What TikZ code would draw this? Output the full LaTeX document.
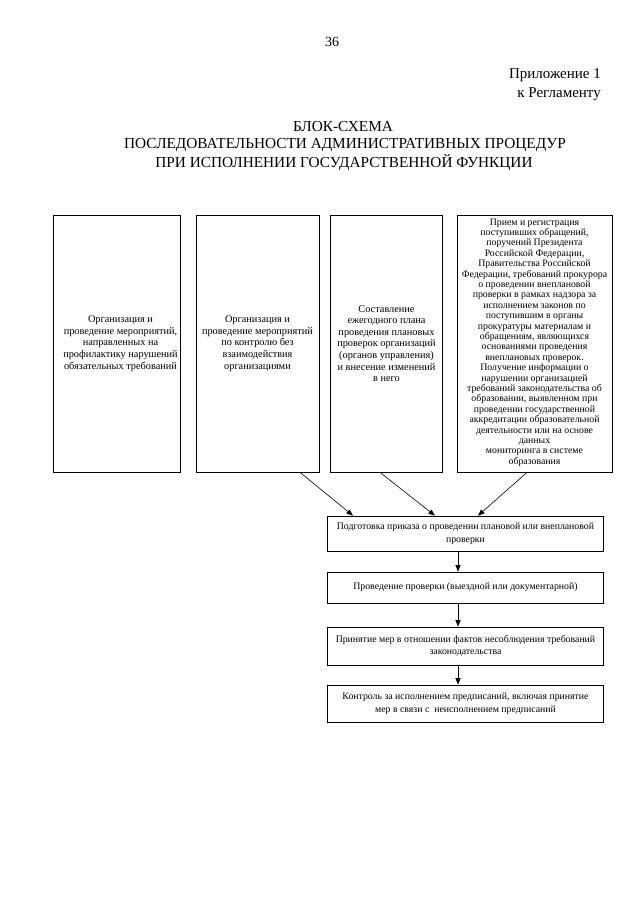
\documentclass[tikz,border=0pt]{standalone}
\usepackage{fontspec}
\setmainfont{Liberation Serif}
\usetikzlibrary{arrows.meta}
\begin{document}
\begin{tikzpicture}[x=1pt,y=-1pt,
  box/.style={draw, line width=0.7pt, align=center, inner sep=1pt},
  topbox/.style={box, minimum height=257pt, font=\fontsize{10.3}{11.6}\selectfont},
  flowbox/.style={box, minimum width=276pt, font=\fontsize{9.8}{12.8}\selectfont},
  arr/.style={line width=0.6pt, -{Triangle[length=6.5pt,width=5pt]}},
  hdr/.style={font=\fontsize{15}{17}\selectfont, inner sep=0pt},
  ttl/.style={font=\fontsize{15.3}{17}\selectfont, inner sep=0pt}]
\useasboundingbox (0,0) rectangle (640,905);
\fill[white] (0,0) rectangle (640,905);
% header
\node[hdr, font=\fontsize{14}{16}\selectfont] (pg) at (332,42) {36};
\node[hdr, anchor=east] (app1) at (601,75) {Приложение 1};
\node[hdr, anchor=east] (app2) at (601,94) {к Регламенту};
\node[ttl] (t1) at (343,127) {БЛОК-СХЕМА};
\node[ttl] (t2) at (345,145) {ПОСЛЕДОВАТЕЛЬНОСТИ АДМИНИСТРАТИВНЫХ ПРОЦЕДУР};
\node[ttl] (t3) at (344,163) {ПРИ ИСПОЛНЕНИИ ГОСУДАРСТВЕННОЙ ФУНКЦИИ};
% top boxes
\node[topbox, minimum width=127pt] (b1) at (116.5,343.5) {};
\node[font=\fontsize{10.3}{11.6}\selectfont, align=center, inner sep=0pt] (b1t) at (b1) [xshift=4pt] {Организация и\\проведение мероприятий,\\направленных на\\профилактику нарушений\\обязательных требований};
\node[topbox, minimum width=123pt] (b2) at (257.5,343.5) {Организация и\\проведение мероприятий\\по контролю без\\взаимодействия\\организациями};
\node[topbox, minimum width=112pt] (b3) at (386.5,343.5) {Составление\\ежегодного плана\\проведения плановых\\проверок организаций\\(органов управления)\\и внесение изменений\\в него};
\node[topbox, minimum width=155pt] (b4) at (534.5,343.5) {};
\node[font=\fontsize{9.8}{10.4}\selectfont, align=center, inner sep=0pt] (b4t) at (b4) [yshift=1pt] {Прием и регистрация\\поступивших обращений,\\поручений Президента\\Российской Федерации,\\Правительства Российской\\Федерации, требований прокурора\\о проведении внеплановой\\проверки в рамках надзора за\\исполнением законов по\\поступившим в органы\\прокуратуры материалам и\\обращениям, являющихся\\основаниями проведения\\внеплановых проверок.\\Получение информации о\\нарушении организацией\\требований законодательства об\\образовании, выявленном при\\проведении государственной\\аккредитации образовательной\\деятельности или на основе\\данных\\мониторинга в системе\\образования};
% flow boxes
\node[flowbox, minimum height=35pt] (b5) at (465.5,533.5) {Подготовка приказа о проведении плановой или внеплановой\\проверки};
\node[flowbox, minimum height=31pt] (b6) at (465.5,587.5) {Проведение проверки (выездной или документарной)};
\node[flowbox, minimum height=38pt] (b7) at (465.5,646) {Принятие мер в отношении фактов несоблюдения требований\\законодательства};
\node[flowbox, minimum height=37pt] (b8) at (465.5,703.5) {Контроль за исполнением предписаний, включая принятие\\мер в связи с\ \ неисполнением предписаний};
% connectors
\draw[arr] ([xshift=42.5pt]b2.south) -- ([xshift=-112.5pt]b5.north);
\draw[arr] ([xshift=-6.5pt]b3.south) -- ([xshift=-30.5pt]b5.north);
\draw[arr] ([xshift=-7.5pt]b4.south) -- ([xshift=12.5pt]b5.north);
\draw[arr] ([xshift=-7.5pt]b5.south) -- ([xshift=-7.5pt]b6.north);
\draw[arr] ([xshift=-7.5pt]b6.south) -- ([xshift=-7.5pt]b7.north);
\draw[arr] ([xshift=-7.5pt]b7.south) -- ([xshift=-7.5pt]b8.north);
\end{tikzpicture}
\end{document}
